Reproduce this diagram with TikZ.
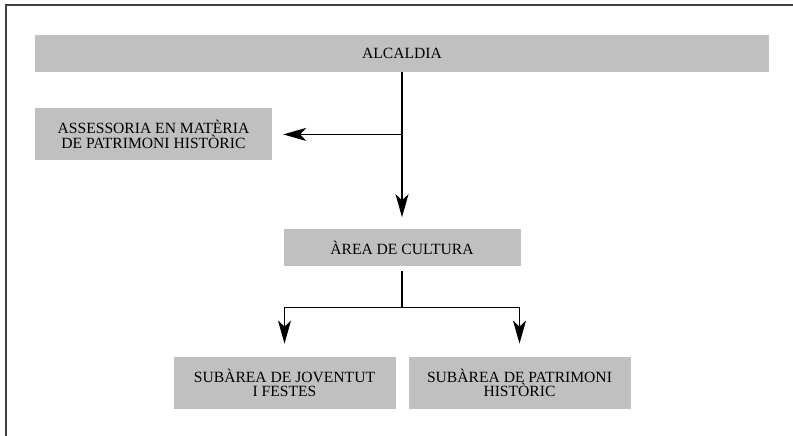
\documentclass[tikz,border=0pt]{standalone}
\usepackage{fontspec}
\setmainfont{Liberation Serif}
\usepackage{tikz}
\usetikzlibrary{arrows.meta, positioning, calc}
\definecolor{box-gray}{HTML}{C0C0C0}
\definecolor{frame-gray}{HTML}{404040}

\begin{document}
\begin{tikzpicture}[
    x=1pt, y=-1pt,
    unit/.style={fill=box-gray, inner sep=0pt, align=center, font=\fontsize{15.6}{14.5}\selectfont},
    wide/.style={unit, minimum width=734pt, minimum height=37pt},
    small/.style={unit, minimum width=237pt, minimum height=37pt},
    tall/.style={unit, minimum width=237pt, minimum height=52pt},
    sub/.style={unit, minimum width=222pt, minimum height=52pt},
    line/.style={line width=1.4pt},
    link/.style={line, -{Stealth[length=23pt, width=13pt, inset=6pt]}}
]
    \useasboundingbox (0,0) rectangle (793,436);
    \draw [line width=2pt, frame-gray] (5.5,436) |- (793,5.5);

    \node (alcaldia) [wide] at (402,53.5) {ALCALDIA};
    \node (assessoria) [tall, below=36pt of alcaldia.south west, anchor=north west] {ASSESSORIA EN MATÈRIA\\DE PATRIMONI HISTÒRIC};
    \node (cultura) [small, below=157pt of alcaldia] {ÀREA DE CULTURA};

    \node (joventut) [sub, below=90pt of cultura, xshift=-117.5pt] {SUBÀREA DE JOVENTUT\\I FESTES};
    \node (patrimoni) [sub, below=90pt of cultura, xshift=117.5pt] {SUBÀREA DE PATRIMONI\\HISTÒRIC};

    % alcaldia -> assessoria, cultura
    \draw [link, shorten >=12pt] (alcaldia.south) -- (cultura.north);
    \draw [link, shorten >=11pt] (alcaldia.south |- assessoria.east) -- (assessoria.east);

    % cultura -> subarees
    \coordinate (split) at ([yshift=-41pt]cultura.south);
    \draw [line] ([yshift=-4pt]cultura.south) -- (split);
    \draw [link, shorten >=13pt] (split) -| (joventut.north);
    \draw [link, shorten >=13pt] (split) -| (patrimoni.north);
\end{tikzpicture}
\end{document}
